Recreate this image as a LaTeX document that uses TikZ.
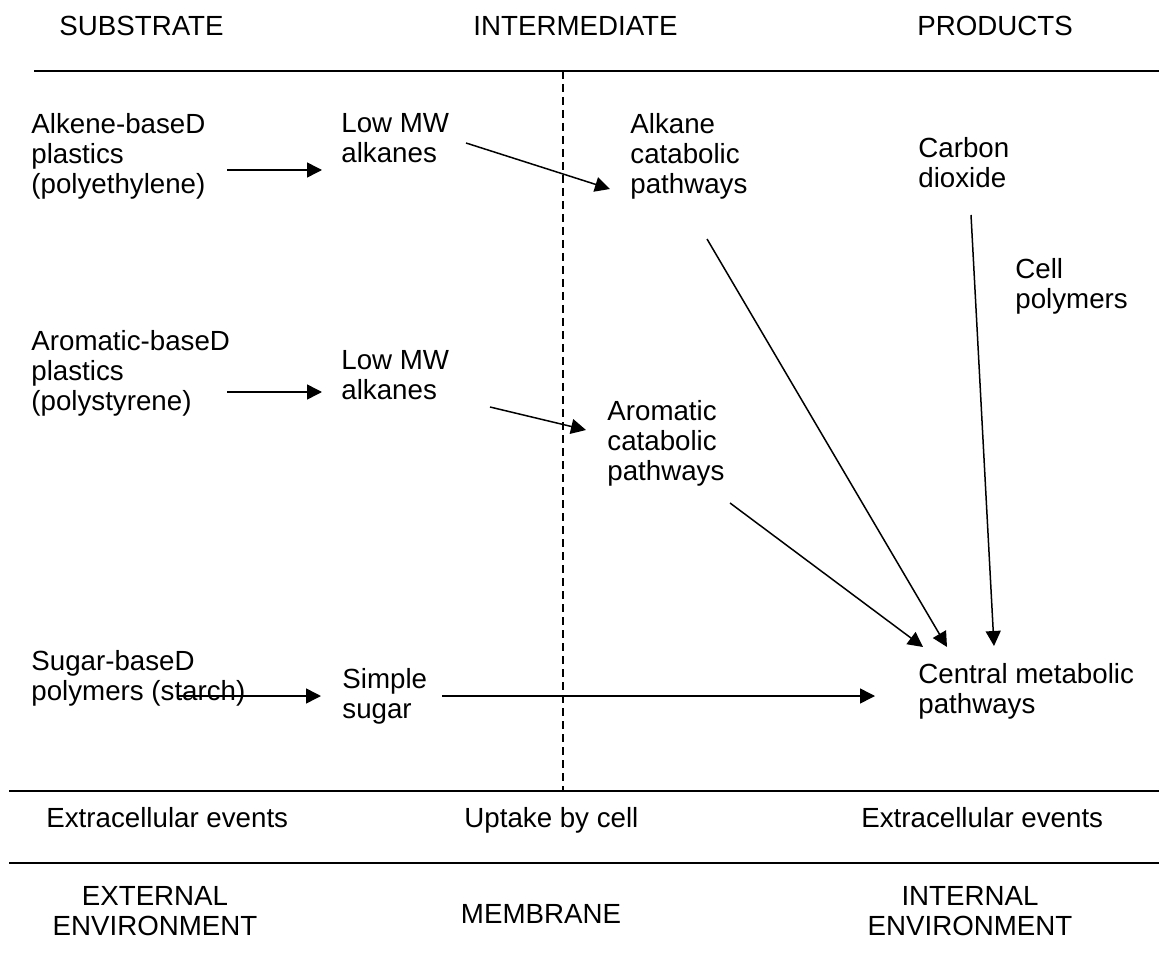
\documentclass[tikz,border=0pt]{standalone}
\usepackage{fontspec}
\setmainfont{Liberation Sans}
\usetikzlibrary{arrows.meta}

\begin{document}
\begin{tikzpicture}[x=0.5pt, y=-0.5pt,
  lbl/.style={anchor=north west, inner sep=0pt, align=left, font=\fontsize{13.85}{15}\selectfont},
  cell/.style={anchor=north, inner sep=0pt, align=center, font=\fontsize{13.85}{15}\selectfont},
  arr/.style={-{Triangle[length=7.5pt,width=7.5pt]}, line width=0.75pt},
  rule/.style={line width=1pt}]

\useasboundingbox (0,0) rectangle (1159,956);

% column heads
\node[lbl] (h_sub)  at (59,16)  {SUBSTRATE};
\node[lbl] (h_int)  at (473,16) {INTERMEDIATE};
\node[lbl] (h_prod) at (917,16) {PRODUCTS};

\draw[rule] (34,71) -- (1159,71);
\draw[rule] (9,791) -- (1159,791);
\draw[rule] (9,863) -- (1159,863);

\coordinate (d_top) at (563,71);
\coordinate (d_bot) at (563,791);
\draw [dashed, line width=0.75pt, dash pattern=on 4pt off 2.5pt] (d_top) -- (d_bot);

% substrates
\node[lbl] (n_alkene) at (31,113)  {Alkene-baseD\\plastics\\(polyethylene)};
\node[lbl] (n_arom)   at (31,330)  {Aromatic-baseD\\plastics\\(polystyrene)};
\node[lbl] (n_sugar)  at (31,650)  {Sugar-baseD\\polymers (starch)};

% intermediates
\node[lbl] (n_lowmw_a) at (341,113) {Low MW\\alkanes};
\node[lbl] (n_lowmw_b) at (341,350) {Low MW\\alkanes};
\node[lbl] (n_simple)  at (342,668) {Simple\\sugar};

% pathways and products
\node[lbl] (n_alkane_cat) at (630,113)  {Alkane\\catabolic\\pathways};
\node[lbl] (n_arom_cat)   at (607,400)  {Aromatic\\catabolic\\pathways};
\node[lbl] (n_co2)        at (918,137)  {Carbon\\dioxide};
\node[lbl] (n_cellpoly)   at (1015,258) {Cell\\polymers};
\node[lbl] (n_central)    at (918,663)  {Central metabolic\\pathways};

% arrow ends
\coordinate (a1_s) at (227,170);  \coordinate (a1_e) at (322,170);
\coordinate (a2_s) at (466,143);  \coordinate (a2_e) at (610,189);
\coordinate (a3_s) at (707,239);  \coordinate (a3_e) at (947,647);
\coordinate (a4_s) at (971,215);  \coordinate (a4_e) at (994,646);
\coordinate (a5_s) at (227,392);  \coordinate (a5_e) at (322,392);
\coordinate (a6_s) at (490,407);  \coordinate (a6_e) at (586,430);
\coordinate (a7_s) at (730,503);  \coordinate (a7_e) at (923,647);
\coordinate (a8_s) at (178,696);  \coordinate (a8_e) at (321,696);
\coordinate (a9_s) at (442,696);  \coordinate (a9_e) at (875,696);

\draw[arr] (a1_s) -- (a1_e);
\draw[arr] (a2_s) -- (a2_e);
\draw[arr] (a3_s) -- (a3_e);
\draw[arr] (a4_s) -- (a4_e);
\draw[arr] (a5_s) -- (a5_e);
\draw[arr] (a6_s) -- (a6_e);
\draw[arr] (a7_s) -- (a7_e);
\draw[arr] (a8_s) -- (a8_e);
\draw[arr] (a9_s) -- (a9_e);

% bottom rows
\node[lbl] (r_extra_a) at (46,807)  {Extracellular events};
\node[lbl] (r_uptake)  at (464,807) {Uptake by cell};
\node[lbl] (r_extra_b) at (861,807) {Extracellular events};

\node[cell] (e_ext)   at (155,886) {EXTERNAL\\ENVIRONMENT};
\node[cell] (e_memb)  at (541,904) {MEMBRANE};
\node[cell] (e_int)   at (970,886) {INTERNAL\\ENVIRONMENT};
\end{tikzpicture}
\end{document}
